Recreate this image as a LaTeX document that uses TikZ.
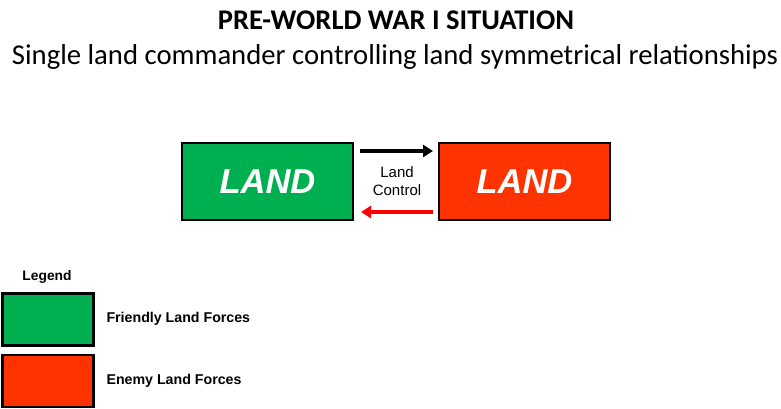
\documentclass[tikz,border=0pt]{standalone}
\usepackage{fontspec}
\setmainfont{Carlito}
\newfontfamily\arialf{Liberation Sans}
\usetikzlibrary{arrows.meta}
\definecolor{friendgreen}{HTML}{00B050}
\definecolor{enemyred}{HTML}{FF3300}
\begin{document}
\begin{tikzpicture}[x=1pt,y=-1pt,
  forcebox/.style={draw=black,line width=2.8pt,minimum width=171pt,minimum height=77pt,inner sep=0pt,text=white,font=\arialf\bfseries\itshape\fontsize{34.5}{34.5}\selectfont},
  legbox/.style={draw=black,line width=2.8pt,minimum width=91pt,minimum height=52pt,inner sep=0pt},
  legtext/.style={anchor=west,font=\arialf\bfseries\fontsize{14.2}{16}\selectfont},
  ctrl/.style={line width=3.6pt,-{Triangle[length=10pt,width=12pt]}}]
\useasboundingbox (0,0) rectangle (781,408);
\node (title) at (396,20) {\bfseries\fontsize{28.5}{32}\selectfont PRE-WORLD WAR I SITUATION};
\node (subtitle) at (395,57) {\fontsize{28.7}{32}\selectfont Single land commander controlling land symmetrical relationships};
\node[forcebox,fill=friendgreen] (friend) at (267.5,181.5) {LAND};
\node[forcebox,fill=enemyred] (enemy) at (524.5,181.5) {LAND};
\coordinate (a1s) at (360,151);
\coordinate (a1e) at (433,151);
\coordinate (a2s) at (433,212);
\coordinate (a2e) at (361,212);
\draw[ctrl,black] (a1s) -- (a1e);
\draw[ctrl,red] (a2s) -- (a2e);
\node[align=center,font=\arialf\fontsize{15}{18}\selectfont] (ctrltext) at (397,181) {Land\\Control};
\node[font=\arialf\bfseries\fontsize{13.8}{16}\selectfont] (legend) at (47,277) {Legend};
\node[legbox,fill=friendgreen] (lgreen) at (48,319.5) {};
\node[legbox,fill=enemyred] (lred) at (48,381) {};
\node[legtext] (ltg) at (103,319) {Friendly Land Forces};
\node[legtext] (ltr) at (103,381) {Enemy Land Forces};
\end{tikzpicture}
\end{document}
